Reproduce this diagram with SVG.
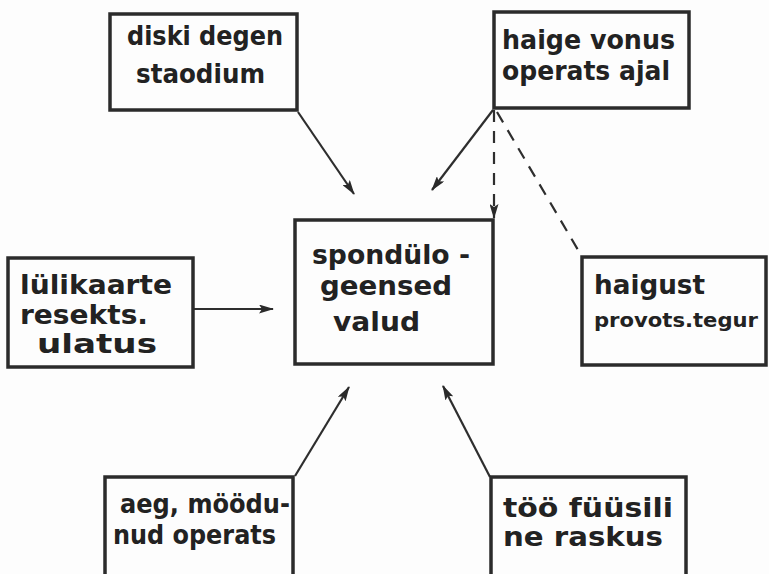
<svg xmlns="http://www.w3.org/2000/svg" width="769" height="574" viewBox="0 0 769 574">
<defs>
<style>
.box{fill:#fdfdfd;stroke:#2b2b2b;stroke-width:3.5}
.t{font-family:"DejaVu Sans","Liberation Sans",sans-serif;font-size:26px;fill:#222;font-weight:bold}
.c{stroke:#2e2e2e;stroke-width:2.2;fill:none}
.d{stroke-dasharray:12,9}
</style>
<marker id="ah" viewBox="0 0 15 9" refX="14" refY="4.5" markerWidth="15" markerHeight="9" markerUnits="userSpaceOnUse" orient="auto">
<path d="M0,0 L15,4.5 L0,9 L3,4.5 z" fill="#2a2a2a"/>
</marker>
</defs>
<rect width="769" height="574" fill="#fdfdfd"/>
<g id="connectors">
<line class="c" x1="298" y1="112" x2="354" y2="194" marker-end="url(#ah)"/>
<line class="c" x1="493" y1="110" x2="432" y2="190" marker-end="url(#ah)"/>
<line class="c d" x1="494" y1="110" x2="494" y2="218" marker-end="url(#ah)"/>
<line class="c d" x1="497" y1="112" x2="581" y2="255"/>
<line class="c" x1="193" y1="309" x2="273" y2="309" marker-end="url(#ah)"/>
<line class="c" x1="295" y1="476" x2="349" y2="387" marker-end="url(#ah)"/>
<line class="c" x1="490" y1="477" x2="443" y2="386" marker-end="url(#ah)"/>
</g>
<g id="n1">
<rect class="box" x="110" y="14" width="187" height="96"/>
<text class="t" x="127" y="45" textLength="156" lengthAdjust="spacingAndGlyphs">diski degen</text>
<text class="t" x="136" y="83" textLength="129" lengthAdjust="spacingAndGlyphs">staodium</text>
</g>
<g id="n2">
<rect class="box" x="494" y="12" width="195" height="96"/>
<text class="t" x="502" y="49" textLength="173" lengthAdjust="spacingAndGlyphs">haige vonus</text>
<text class="t" x="502" y="80" textLength="168" lengthAdjust="spacingAndGlyphs">operats ajal</text>
</g>
<g id="center">
<rect class="box" x="295" y="220" width="198" height="144"/>
<text class="t" x="312" y="264" textLength="158" lengthAdjust="spacingAndGlyphs">spondülo -</text>
<text class="t" x="320" y="295" textLength="132" lengthAdjust="spacingAndGlyphs">geensed</text>
<text class="t" x="333" y="331" textLength="87" lengthAdjust="spacingAndGlyphs">valud</text>
</g>
<g id="n3">
<rect class="box" x="8" y="258" width="185" height="109"/>
<text class="t" x="20" y="294" textLength="152" lengthAdjust="spacingAndGlyphs">lülikaarte</text>
<text class="t" x="20" y="324" textLength="128" lengthAdjust="spacingAndGlyphs">resekts.</text>
<text class="t" x="37" y="353" textLength="120" lengthAdjust="spacingAndGlyphs">ulatus</text>
</g>
<g id="n4">
<rect class="box" x="582" y="257" width="184" height="108"/>
<text class="t" x="594" y="294" textLength="111" lengthAdjust="spacingAndGlyphs">haigust</text>
<text class="t" x="594" y="327" style="font-size:20px" textLength="164" lengthAdjust="spacingAndGlyphs">provots.tegur</text>
</g>
<g id="n5">
<rect class="box" x="105" y="477" width="188" height="110"/>
<text class="t" x="120" y="513" textLength="170" lengthAdjust="spacingAndGlyphs">aeg, möödu-</text>
<text class="t" x="113" y="544" textLength="163" lengthAdjust="spacingAndGlyphs">nud operats</text>
</g>
<g id="n6">
<rect class="box" x="491" y="477" width="195" height="110"/>
<text class="t" x="503" y="517" textLength="170" lengthAdjust="spacingAndGlyphs">töö füüsili</text>
<text class="t" x="503" y="546" textLength="160" lengthAdjust="spacingAndGlyphs">ne raskus</text>
</g>
</svg>
